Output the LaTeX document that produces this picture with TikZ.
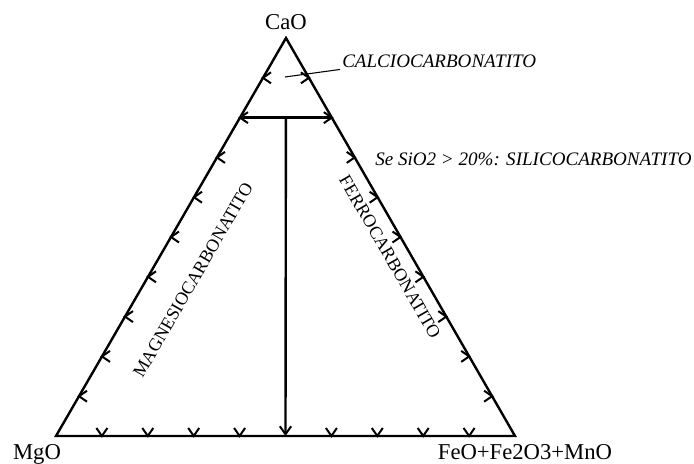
\documentclass[tikz,border=0pt]{standalone}
\usepackage{fontspec}
\setmainfont{Liberation Serif}
\usetikzlibrary{arrows.meta, calc}

\begin{document}
\begin{tikzpicture}[
    x=0.75pt, y=-0.75pt,
    side/.style={line width=1.8pt, line join=miter},
    tick/.style={line width=1.5pt},
    vertex/.style={font=\fontsize{17}{20}\selectfont, inner sep=0pt, anchor=base},
    field/.style={font=\fontsize{14.3}{17}\selectfont\itshape, inner sep=1.5pt, anchor=base west},
    sidelabel/.style={font=\fontsize{13.5}{16}\selectfont, inner sep=0pt},
    arrow/.style={line width=1.8pt, -{Straight Barb[length=6pt,width=8.5pt,line width=1.5pt]}}
]
\useasboundingbox (0,0) rectangle (694,464);

%% Corners of the triangle
\coordinate (mgo) at (56,436);
\coordinate (cao) at (286,38);
\coordinate (feo) at (515,436);

\node (lcao) [vertex] at (286,29) {CaO};
\node (lmgo) [vertex] at (37,459) {MgO};
\node (lfeo) [vertex] at (525,459) {FeO+Fe2O3+MnO};

%% Triangle
\draw [side] (mgo) -- (cao) -- (feo) -- cycle;

%% Ticks every 10%
\foreach \t in {0.1,0.2,...,0.95} {
    \draw [tick] ($(mgo)!\t!(cao)$) ++(8,-5.5) -- ++(-8,5.5) -- ++(8,5.5);
    \draw [tick] ($(feo)!\t!(cao)$) ++(-8,-5.5) -- ++(8,5.5) -- ++(-8,5.5);
}
\foreach \t in {0.1,0.2,0.3,0.4,0.6,0.7,0.8,0.9} {
    \draw [tick] ($(mgo)!\t!(feo)$) ++(-5.5,-8) -- ++(5.5,8) -- ++(5.5,-8);
}

%% Field boundaries
\coordinate (left80)  at ($(mgo)!0.8!(cao)$);
\coordinate (right80) at ($(feo)!0.8!(cao)$);
\coordinate (top)     at ($(left80)!0.5!(right80)$);
\coordinate (base)    at ($(mgo)!0.5!(feo)$);
\draw [side] (left80) -- (right80);
\draw [arrow] (top) -- (base);

%% Field names
\node (calcio) [field] at (340,67) {CALCIOCARBONATITO};
\coordinate (clead) at (285,77);
\draw [line width=0.8pt] (clead) -- (calcio.south west);

\node (silico) [field] at (373,165) {Se SiO2 > 20\%: SILICOCARBONATITO};

\node (magnesio) [sidelabel, rotate=60]  at (193,280) {MAGNESIOCARBONATITO};
\node (ferro)    [sidelabel, rotate=-60] at (390,257) {FERROCARBONATITO};

\end{tikzpicture}
\end{document}
